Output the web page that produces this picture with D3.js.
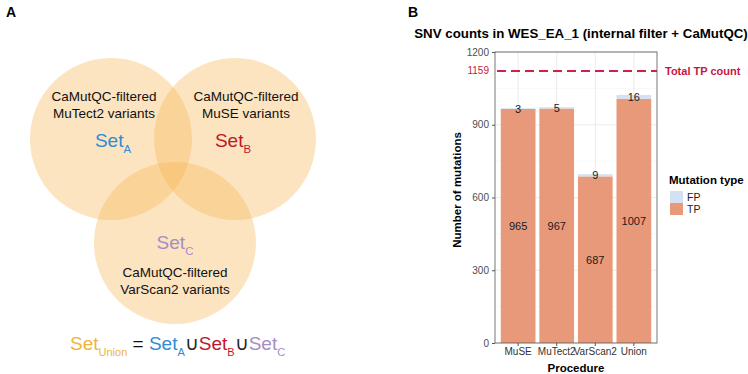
<!DOCTYPE html>
<html>
<head>
<meta charset="utf-8">
<script src="https://cdn.jsdelivr.net/npm/d3@7"></script>
<style>
  body { margin: 0; background: #fff; }
  text { font-family: "Liberation Sans", Arial, sans-serif; }
</style>
</head>
<body>
<div id="chart"></div>
<script>
// bar chart data
var procedures = ["MuSE", "MuTect2", "VarScan2", "Union"];
var tpCounts = [965, 967, 687, 1007];
var fpCounts = [3, 5, 9, 16];
var yTicks = [0, 300, 600, 900, 1200];
var totalTPLabel = "1159";
var totalTPLine = 1122; // where the dashed line sits in the picture
var mutationTypes = ["FP", "TP"];
var typeColors = ["#d3e1f3", "#e8997a"];

// venn data
var vennSets = ["A", "B", "C"];
var vennColors = ["#2e8bd6", "#c0172c", "#a58ec4"];
var vennTools = ["MuTect2", "MuSE", "VarScan2"];

var svg = d3.select("#chart").append("svg")
  .attr("width", 748)
  .attr("height", 374);

// ---------- panel A ----------
svg.append("text").attr("x", 6).attr("y", 17)
  .style("font-weight", "bold").style("font-size", "14px").text("A");

var circles = [
  { cx: 111, cy: 139 },
  { cx: 235, cy: 139 },
  { cx: 175, cy: 243 }
];
svg.append("g").selectAll("circle")
  .data(circles).enter().append("circle")
  .attr("cx", function (d) { return d.cx; })
  .attr("cy", function (d) { return d.cy; })
  .attr("r", 81)
  .style("fill", "#f8b450")
  .style("opacity", 0.36);

// tool captions
var captionPos = [[104, 97], [246, 97], [175, 273]];
captionPos.forEach(function (p, i) {
  var t = svg.append("text")
    .attr("text-anchor", "middle")
    .style("font-size", "13.5px")
    .style("fill", "#111");
  t.append("tspan").attr("x", p[0]).attr("y", p[1] + 4).text("CaMutQC-filtered");
  t.append("tspan").attr("x", p[0]).attr("dy", 17).text(vennTools[i] + " variants");
});

function setLabel(g, x, y, sub, color, size) {
  var t = g.append("text")
    .attr("x", x).attr("y", y)
    .attr("text-anchor", "middle")
    .style("font-size", size + "px")
    .style("fill", color);
  t.append("tspan").text("Set");
  t.append("tspan").attr("dy", size * 0.3).style("font-size", (size * 0.6) + "px").text(sub);
  return t;
}

var setPos = [[113, 147], [233, 147], [175, 249]];
setPos.forEach(function (p, i) {
  setLabel(svg, p[0], p[1], vennSets[i], vennColors[i], 19);
});

// union formula
var formula = svg.append("text")
  .attr("x", 70).attr("y", 350)
  .style("font-size", "19px");
formula.append("tspan").style("fill", "#f0b43a").text("Set");
formula.append("tspan").attr("dy", 6).style("font-size", "11px").style("fill", "#f0b43a").text("Union");
formula.append("tspan").attr("dy", -6).style("fill", "#111").text(" = ");
vennSets.forEach(function (s, i) {
  if (i > 0) formula.append("tspan").attr("dy", -6).style("fill", "#222").text("\u222A");
  formula.append("tspan").style("fill", vennColors[i]).text("Set");
  formula.append("tspan").attr("dy", 6).style("font-size", "11px").style("fill", vennColors[i]).text(s);
});

// ---------- panel B ----------
svg.append("text").attr("x", 408).attr("y", 17)
  .style("font-weight", "bold").style("font-size", "14px").text("B");

var pLeft = 495, pRight = 657, pTop = 52, pBottom = 343;

var x = d3.scaleBand()
  .domain(procedures)
  .range([pLeft, pRight])
  .paddingInner(0.1)
  .paddingOuter(0.15);

var y = d3.scaleLinear()
  .domain([0, 1200])
  .range([pBottom, pTop]);

var plot = svg.append("g");

// minor grid
var minor = d3.range(150, 1200, 300);
plot.selectAll(".minor").data(minor).enter().append("line")
  .attr("x1", pLeft).attr("x2", pRight)
  .attr("y1", function (d) { return y(d); })
  .attr("y2", function (d) { return y(d); })
  .style("stroke", "#f3f3f3").style("stroke-width", 0.6);
// major grid
plot.selectAll(".major").data(yTicks).enter().append("line")
  .attr("x1", pLeft).attr("x2", pRight)
  .attr("y1", function (d) { return y(d); })
  .attr("y2", function (d) { return y(d); })
  .style("stroke", "#e6e6e6").style("stroke-width", 0.8);
plot.selectAll(".vgrid").data(procedures).enter().append("line")
  .attr("x1", function (d) { return x(d) + x.bandwidth() / 2; })
  .attr("x2", function (d) { return x(d) + x.bandwidth() / 2; })
  .attr("y1", pTop).attr("y2", pBottom)
  .style("stroke", "#e6e6e6").style("stroke-width", 0.8);

// stacked bars
var rows = procedures.map(function (p, i) {
  return { proc: p, TP: tpCounts[i], FP: fpCounts[i] };
});
var stack = d3.stack().keys(["TP", "FP"])(rows);

plot.selectAll(".layer").data(stack).enter().append("g")
  .style("fill", function (d) { return d.key === "TP" ? typeColors[1] : typeColors[0]; })
  .selectAll("rect").data(function (d) { return d; }).enter().append("rect")
  .attr("x", function (d) { return x(d.data.proc); })
  .attr("width", x.bandwidth())
  .attr("y", function (d) { return y(d[1]); })
  .attr("height", function (d) { return y(d[0]) - y(d[1]); });

// bar labels
stack.forEach(function (layer) {
  plot.selectAll(".lab-" + layer.key).data(layer).enter().append("text")
    .attr("x", function (d) { return x(d.data.proc) + x.bandwidth() / 2; })
    .attr("y", function (d) { return y((d[0] + d[1]) / 2) + 4; })
    .attr("text-anchor", "middle")
    .style("font-size", "11px")
    .style("fill", "#1a1a1a")
    .text(function (d) { return d.data[layer.key]; });
});

// total TP line
plot.append("line")
  .attr("x1", pLeft + 2).attr("x2", pRight)
  .attr("y1", y(totalTPLine)).attr("y2", y(totalTPLine))
  .style("stroke", "#d21f4b")
  .style("stroke-width", 2)
  .style("stroke-dasharray", "9,5");

// panel border
plot.append("rect")
  .attr("x", pLeft).attr("y", pTop)
  .attr("width", pRight - pLeft).attr("height", pBottom - pTop)
  .style("fill", "none").style("stroke", "#555").style("stroke-width", 0.8);

// axes
var yAxis = svg.append("g")
  .attr("transform", "translate(" + pLeft + ",0)")
  .call(d3.axisLeft(y).tickValues(yTicks).tickFormat(d3.format("d")).tickSize(3).tickPadding(3));
yAxis.select(".domain").remove();
yAxis.selectAll("line").style("stroke", "#555");
yAxis.selectAll("text")
  .style("font-size", "10px")
  .style("font-family", "Liberation Sans, Arial, sans-serif")
  .style("fill", "#4d4d4d");

svg.append("text")
  .attr("x", pLeft - 6).attr("y", y(totalTPLine) + 3.5)
  .attr("text-anchor", "end")
  .style("font-size", "10px")
  .style("fill", "#c8163f")
  .text(totalTPLabel);

var xAxis = svg.append("g")
  .attr("transform", "translate(0," + pBottom + ")")
  .call(d3.axisBottom(x).tickSize(3).tickPadding(2));
xAxis.select(".domain").remove();
xAxis.selectAll("line").style("stroke", "#555");
xAxis.selectAll("text")
  .style("font-size", "10px")
  .style("font-family", "Liberation Sans, Arial, sans-serif")
  .style("fill", "#333");

// titles
svg.append("text")
  .attr("x", 581).attr("y", 38)
  .attr("text-anchor", "middle")
  .style("font-weight", "bold").style("font-size", "13.3px")
  .text("SNV counts in WES_EA_1 (internal filter + CaMutQC)");

svg.append("text")
  .attr("transform", "translate(461,190) rotate(-90)")
  .attr("text-anchor", "middle")
  .style("font-weight", "bold").style("font-size", "11.5px")
  .text("Number of mutations");

svg.append("text")
  .attr("x", (pLeft + pRight) / 2).attr("y", 372)
  .attr("text-anchor", "middle")
  .style("font-weight", "bold").style("font-size", "11.5px")
  .text("Procedure");

svg.append("text")
  .attr("x", 665).attr("y", y(totalTPLine) + 4)
  .style("font-weight", "bold").style("font-size", "11px")
  .style("fill", "#c8163f")
  .text("Total TP count");

// legend
var legend = svg.append("g").attr("transform", "translate(669,172)");
legend.append("text").attr("x", 0).attr("y", 12)
  .style("font-weight", "bold").style("font-size", "11.5px")
  .text("Mutation type");
mutationTypes.forEach(function (m, i) {
  legend.append("rect")
    .attr("x", 1).attr("y", 19 + i * 12)
    .attr("width", 13).attr("height", 12)
    .style("fill", typeColors[i]);
  legend.append("text")
    .attr("x", 18).attr("y", 29 + i * 12)
    .style("font-size", "10.5px").style("fill", "#222")
    .text(m);
});
</script>
</body>
</html>
